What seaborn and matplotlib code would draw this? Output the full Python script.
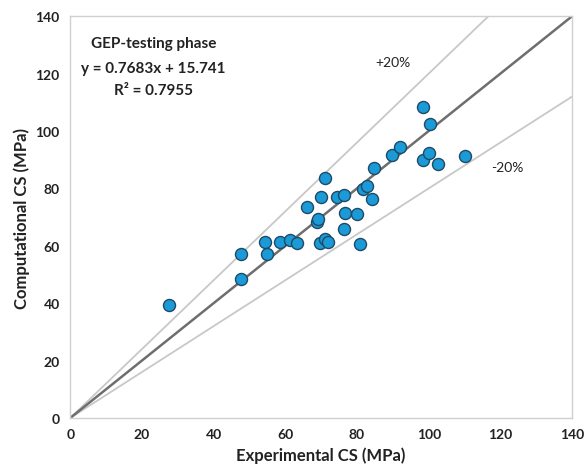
import numpy as np
import pandas as pd
import matplotlib
matplotlib.use('Agg')
import matplotlib.pyplot as plt
import seaborn as sns

# Datos (MPa)
experimental = [27.6, 47.7, 47.7, 54.4, 54.8, 58.6, 61.2, 63.2, 66.0, 68.8,
                69.2, 70.0, 71.1, 69.7, 71.1, 72.0, 74.4, 76.5, 76.7, 79.9,
                76.5, 80.9, 81.8, 82.9, 84.1, 84.6, 89.7, 92.0, 98.5, 100.4,
                98.3, 100.1, 102.7, 110.1]
computational = [39.5, 57.1, 48.4, 61.2, 57.1, 61.2, 62.0, 60.8, 73.4, 68.2,
                 69.3, 76.9, 83.5, 60.8, 62.3, 61.4, 76.9, 77.7, 71.3, 71.1,
                 65.8, 60.6, 79.8, 80.9, 76.3, 87.0, 91.6, 94.3, 108.2, 102.4,
                 89.9, 92.3, 88.5, 91.4]

ref_x = [0, 140]
factor_ideal = 1.0
factor_sup = 1.2
factor_inf = 0.8

df = pd.DataFrame({'exp': experimental, 'comp': computational})

sns.set_style('white')
plt.rcParams['font.family'] = ['Lato', 'DejaVu Sans']

fig = plt.figure(figsize=(5.85, 4.77), dpi=100)
ax = fig.add_axes([0.12, 0.1216, 0.858, 0.8424])

# Lineas de referencia
ax.plot(ref_x, [v * factor_sup for v in ref_x], color='#c8c8c8', lw=1.3, zorder=1)
ax.plot(ref_x, [v * factor_inf for v in ref_x], color='#c8c8c8', lw=1.3, zorder=1)
ax.plot(ref_x, [v * factor_ideal for v in ref_x], color='#6e6e6e', lw=1.8, zorder=2)

sns.scatterplot(data=df, x='exp', y='comp', ax=ax, s=75, color='#1a9ad6',
                edgecolor='#1f4a66', linewidth=1.0, zorder=3)

ax.set_xlim(0, 140)
ax.set_ylim(0, 140)
ax.set_xticks(range(0, 141, 20))
ax.set_yticks(range(0, 141, 20))
for s in ax.spines.values():
    s.set_color('#d0d0d0')
    s.set_linewidth(1.0)
ax.tick_params(axis='both', which='both', direction='out', length=4,
               color='#d0d0d0', labelsize=10, labelcolor='#222222')
for lbl in ax.get_xticklabels() + ax.get_yticklabels():
    lbl.set_fontweight('bold')

ax.set_xlabel('Experimental CS (MPa)', fontsize=12, fontweight='bold', color='#222222')
ax.set_ylabel('Computational CS (MPa)', fontsize=12, fontweight='bold', color='#222222')

ax.text(23.3, 130.6, 'GEP-testing phase', ha='center', va='center',
        fontsize=11, fontweight='bold', color='#222222')
ax.text(23.3, 121.8, 'y = 0.7683x + 15.741', ha='center', va='center',
        fontsize=11, fontweight='bold', color='#222222')
ax.text(23.3, 114.4, 'R² = 0.7955', ha='center', va='center',
        fontsize=11, fontweight='bold', color='#222222')
ax.text(90, 124, '+20%', ha='center', va='center', fontsize=10, color='#222222')
ax.text(122, 87.4, '-20%', ha='center', va='center', fontsize=10, color='#222222')

fig.savefig('out.png', dpi=100)
